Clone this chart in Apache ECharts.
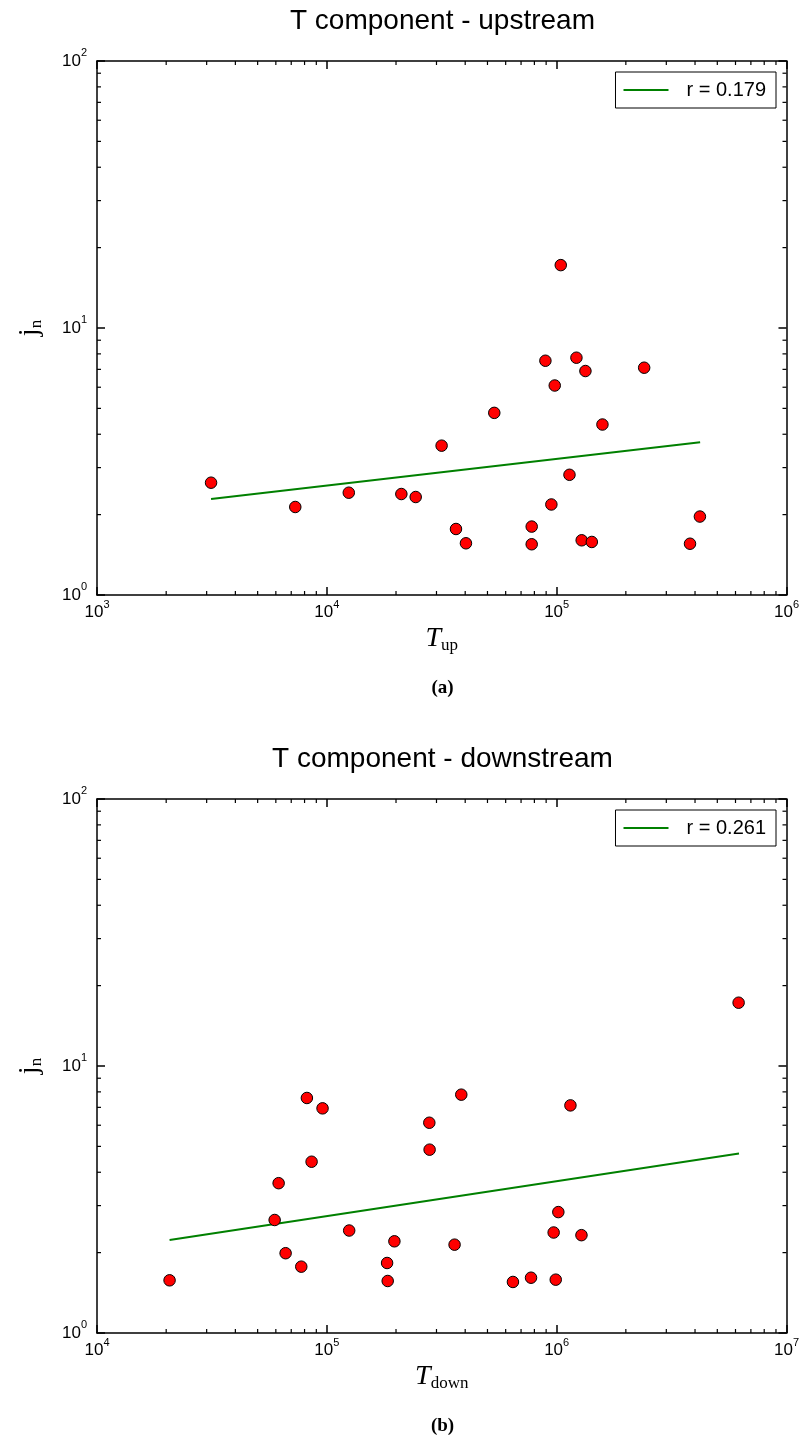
<!DOCTYPE html>
<html><head><meta charset="utf-8">
<script src="https://cdn.jsdelivr.net/npm/echarts@6/dist/echarts.min.js"></script>
<style>html,body{margin:0;padding:0;background:#fff}#c{width:802px;height:1441px}</style>
</head><body><div id="c"></div>
<script>
// ---- data ----
const titles = ['T component - upstream', 'T component - downstream'];
const captions = ['(a)', '(b)'];
const xNames = [['T', 'up'], ['T', 'down']];
const yName = ['j', 'n'];
const legendNames = ['r = 0.179', 'r = 0.261'];

const upT = [3135, 7290, 12460, 21100, 24360, 31580, 36470, 40300, 53530, 77870, 77870, 89330,
  94840, 98100, 104200, 113700, 121900, 128500, 133400, 142200, 158200, 240300, 380400, 420000];
const upJ = [2.634, 2.136, 2.416, 2.389, 2.328, 3.625, 1.767, 1.562, 4.81, 1.804, 1.549, 7.54,
  2.183, 6.09, 17.2, 2.82, 7.74, 1.603, 6.90, 1.580, 4.35, 7.10, 1.556, 1.967];
const downT = [20690, 59290, 61700, 66170, 77410, 81890, 85840, 95800, 125100, 182900, 184000, 196800,
  279200, 280000, 359600, 384600, 645300, 773500, 970300, 990800, 1017000, 1148000, 1282000, 6190000];
const downJ = [1.575, 2.65, 3.64, 1.99, 1.772, 7.59, 4.38, 6.94, 2.42, 1.829, 1.566, 2.205,
  6.13, 4.86, 2.142, 7.81, 1.553, 1.611, 2.379, 1.584, 2.837, 7.12, 2.325, 17.26];

const upFitT = [3135, 421000];
const upFitJ = [2.288, 3.73];
const downFitT = [20690, 6214000];
const downFitJ = [2.23, 4.70];

const xRanges = [[1e3, 1e6], [1e4, 1e7]];
const yRange = [1, 100];
const minorMultipliers = [2, 3, 4, 5, 6, 7, 8, 9];

// ---- build ----
function zip(a, b) { return a.map((v, i) => [v, b[i]]); }
function minorValues(lo, hi) {
  const out = [];
  for (let d = lo; d < hi; d *= 10) minorMultipliers.forEach(m => out.push(d * m));
  return out;
}
const grids = [
  { left: 97, top: 61, width: 691, height: 534 },
  { left: 97, top: 799, width: 691, height: 534 }
];
const AX = '#000';
const supLabel = v => '{b|10}{s|' + Math.round(Math.log10(v)) + '}';
const labelRich = {
  b: { fontSize: 17, fontFamily: 'Liberation Sans', color: AX },
  s: { fontSize: 11, fontFamily: 'Liberation Sans', color: AX, padding: [0, 0, 16, 0] }
};

const xAxis = [], yAxis = [], series = [], legend = [], graphic = [];
[0, 1].forEach(g => {
  const xr = xRanges[g];
  const base = {
    type: 'log', logBase: 10, gridIndex: g,
    axisLine: { show: true, lineStyle: { color: AX, width: 1.5 } },
    axisTick: { show: true, inside: true, length: 8, lineStyle: { color: AX, width: 1.5 } },
    splitLine: { show: false }
  };
  xAxis.push(Object.assign({}, base, {
    position: 'bottom', min: xr[0], max: xr[1],
    axisLabel: { margin: 4, formatter: supLabel, rich: labelRich },
    name: '{t|' + xNames[g][0] + '}{u|' + xNames[g][1] + '}',
    nameLocation: 'middle', nameGap: 28,
    nameTextStyle: {
      rich: {
        t: { fontSize: 28, fontStyle: 'italic', fontFamily: 'Liberation Serif', color: AX },
        u: { fontSize: 17, fontFamily: 'Liberation Serif', color: AX, padding: [14, 0, 0, 0] }
      }
    }
  }));
  xAxis.push(Object.assign({}, base, {
    position: 'top', min: xr[0], max: xr[1], axisLabel: { show: false }
  }));
  yAxis.push(Object.assign({}, base, {
    position: 'left', min: yRange[0], max: yRange[1],
    axisLabel: { margin: 10, formatter: supLabel, rich: labelRich },
    name: '{j|' + yName[0] + '}{n|' + yName[1] + '}',
    nameLocation: 'middle', nameGap: 52,
    nameTextStyle: {
      rich: {
        j: { fontSize: 28, fontFamily: 'Liberation Serif', color: AX },
        n: { fontSize: 17, fontFamily: 'Liberation Serif', color: AX, padding: [14, 0, 0, 0] }
      }
    }
  }));
  yAxis.push(Object.assign({}, base, {
    position: 'right', min: yRange[0], max: yRange[1], axisLabel: { show: false }
  }));
  const xi = g * 2, yi = g * 2;
  // minor ticks (x, bottom + top)
  series.push({
    type: 'custom', xAxisIndex: xi, yAxisIndex: yi, silent: true, clip: false,
    data: minorValues(xr[0], xr[1]).map(v => [v, yRange[0]]),
    renderItem: (params, api) => {
      const cs = params.coordSys;
      const x = api.coord([api.value(0), yRange[0]])[0];
      const st = { stroke: AX, lineWidth: 1.2 };
      return { type: 'group', children: [
        { type: 'line', shape: { x1: x, y1: cs.y + cs.height, x2: x, y2: cs.y + cs.height - 4 }, style: st },
        { type: 'line', shape: { x1: x, y1: cs.y, x2: x, y2: cs.y + 4 }, style: st }
      ] };
    }
  });
  // minor ticks (y, left + right)
  series.push({
    type: 'custom', xAxisIndex: xi, yAxisIndex: yi, silent: true, clip: false,
    data: minorValues(yRange[0], yRange[1]).map(v => [xr[0], v]),
    renderItem: (params, api) => {
      const cs = params.coordSys;
      const y = api.coord([xr[0], api.value(1)])[1];
      const st = { stroke: AX, lineWidth: 1.2 };
      return { type: 'group', children: [
        { type: 'line', shape: { x1: cs.x, y1: y, x2: cs.x + 4, y2: y }, style: st },
        { type: 'line', shape: { x1: cs.x + cs.width, y1: y, x2: cs.x + cs.width - 4, y2: y }, style: st }
      ] };
    }
  });
  series.push({
    name: legendNames[g], type: 'line', xAxisIndex: xi, yAxisIndex: yi,
    data: g === 0 ? zip(upFitT, upFitJ) : zip(downFitT, downFitJ),
    symbol: 'none', lineStyle: { color: '#008000', width: 2 }, itemStyle: { color: '#008000' }, z: 3
  });
  series.push({
    name: 'pts' + g, type: 'scatter', xAxisIndex: xi, yAxisIndex: yi,
    data: g === 0 ? zip(upT, upJ) : zip(downT, downJ),
    symbol: 'circle', symbolSize: 11.5,
    itemStyle: { color: '#ff0000', borderColor: '#000', borderWidth: 1, opacity: 1 }, z: 4
  });
  legend.push({
    data: [{ name: legendNames[g], icon: 'rect' }], right: 26, top: grids[g].top + 11,
    orient: 'horizontal', backgroundColor: '#fff', borderColor: '#000', borderWidth: 1, borderRadius: 0,
    padding: [8, 10, 8, 8], itemWidth: 45, itemHeight: 2, itemGap: 0,
    itemStyle: { color: '#008000' },
    textStyle: { fontSize: 20, fontFamily: 'Liberation Sans', color: '#000', padding: [0, 0, 0, 13], lineHeight: 20 },
    selectedMode: false
  });
  const cx = grids[g].left + grids[g].width / 2;
  graphic.push({
    type: 'text', x: cx, y: grids[g].top - 40,
    style: { text: titles[g], font: '28px "Liberation Sans"', fill: '#000', align: 'center', verticalAlign: 'middle' }
  });
  graphic.push({
    type: 'text', x: cx, y: grids[g].top + grids[g].height + 93,
    style: { text: captions[g], font: 'bold 19px "Liberation Serif"', fill: '#000', align: 'center', verticalAlign: 'middle' }
  });
});

const chart = echarts.init(document.getElementById('c'), null, { renderer: 'canvas' });
chart.setOption({
  animation: false, backgroundColor: '#fff',
  grid: grids, xAxis, yAxis, series, legend, graphic
});
</script></body></html>
